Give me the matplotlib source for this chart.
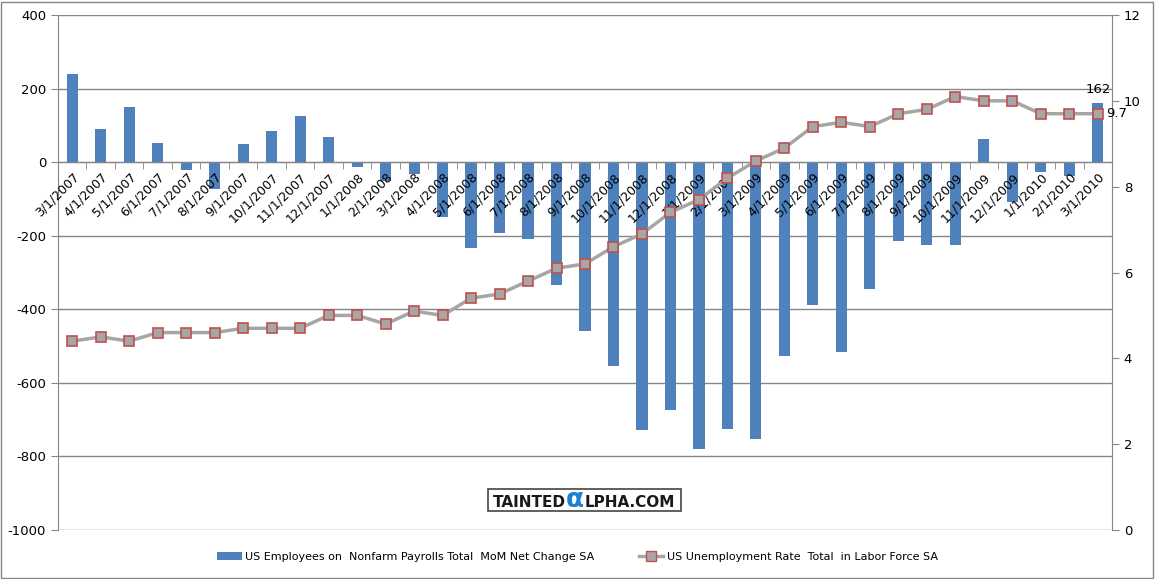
import numpy as np
import pandas as pd
import matplotlib
matplotlib.use("Agg")
import matplotlib.pyplot as plt
from matplotlib.patches import Rectangle, Patch
from matplotlib.lines import Line2D

plt.rcParams["axes.unicode_minus"] = False

# ---------------- data ----------------
dates = pd.date_range("2007-03-01", "2010-03-01", freq="MS")
date_labels = [f"{d.month}/{d.day}/{d.year}" for d in dates]

payrolls = [239, 90, 149, 52, -22, -73, 49, 84, 125, 68,
            -14, -51, -33, -150, -234, -193, -209, -334, -459, -554,
            -728, -673, -779, -726, -753, -528, -387, -515, -346, -214,
            -226, -226, 64, -109, -27, -37, 162]

unemployment = [4.4, 4.5, 4.4, 4.6, 4.6, 4.6, 4.7, 4.7, 4.7, 5.0,
                5.0, 4.8, 5.1, 5.0, 5.4, 5.5, 5.8, 6.1, 6.2, 6.6,
                6.9, 7.4, 7.7, 8.2, 8.6, 8.9, 9.4, 9.5, 9.4, 9.7,
                9.8, 10.1, 10.0, 10.0, 9.7, 9.7, 9.7]

bar_name = "US Employees on  Nonfarm Payrolls Total  MoM Net Change SA"
line_name = "US Unemployment Rate  Total  in Labor Force SA"

bar_color = "#4F81BD"
line_color = "#A6A6A6"
edge_red = "#C0504D"
grid_gray = "#868686"

# ---------------- figure ----------------
W, H = 1155, 579
fig = plt.figure(figsize=(W / 100, H / 100), dpi=100)
fig.patch.set_facecolor("white")
fig.patches.append(Rectangle((1 / W, 1 / H), 1 - 3 / W, 1 - 3 / H, transform=fig.transFigure,
                             fill=False, edgecolor="#868686", linewidth=1))

left, right, bottom, top = 58, 1112, 530, 15
ax = fig.add_axes([left / W, (H - bottom) / H, (right - left) / W, (bottom - top) / H])
x = np.arange(len(payrolls))

ax.bar(x, payrolls, width=0.39, color=bar_color, zorder=2)
ax.set_xlim(-0.5, len(x) - 0.5)
ax.set_ylim(-1000, 400)
ax.set_yticks(np.arange(-1000, 401, 200))
ax.yaxis.grid(True, color=grid_gray, linewidth=1)
ax.set_axisbelow(True)
ax.xaxis.set_zorder(3)   # date labels sit on top of the bars

for s in ["top", "right"]:
    ax.spines[s].set_visible(False)
ax.spines["left"].set_color(grid_gray)
ax.spines["bottom"].set_position(("data", 0))
ax.spines["bottom"].set_color(grid_gray)
ax.spines["bottom"].set_zorder(3)

ax.set_xticks(x)
ax.set_xticklabels(date_labels, rotation=45, ha="right", rotation_mode="anchor", fontsize=9)
ax.set_xticks(np.arange(-0.5, len(x)), minor=True)
ax.tick_params(axis="x", which="major", length=0, pad=6)
ax.tick_params(axis="x", which="minor", length=5, color=grid_gray, direction="out")
ax.tick_params(axis="y", length=5, color=grid_gray, labelsize=9.5)

ax.annotate(str(payrolls[-1]), (x[-1], payrolls[-1]), xytext=(0, 5), textcoords="offset points",
            ha="center", va="bottom", fontsize=9.5)

# ---------------- unemployment line ----------------
ax2 = ax.twinx()
ax2.plot(x, unemployment, color=line_color, linewidth=2.5, marker="s", markersize=6.5,
         markerfacecolor="#A6A6A6", markeredgecolor=edge_red, markeredgewidth=1.2, zorder=4)
ax2.set_ylim(0, 12)
ax2.set_yticks(np.arange(0, 13, 2))
for s in ["top", "left", "bottom"]:
    ax2.spines[s].set_visible(False)
ax2.spines["right"].set_color(grid_gray)
ax2.tick_params(axis="y", length=5, color=grid_gray, labelsize=9.5)
ax2.annotate(f"{unemployment[-1]}", (x[-1], unemployment[-1]), xytext=(6, 0), textcoords="offset points",
             ha="left", va="center", fontsize=9.5)

# ---------------- watermark ----------------
t1 = fig.text(493 / W, (H - 507) / H, "TAINTED", fontsize=11, fontweight="bold", color="#1a1a1a")
t2 = ax.annotate("\u03b1", xy=(1, 0), xycoords=t1, xytext=(0, -2), textcoords="offset points",
                 fontsize=19, fontweight="bold", color="#1F7FD0", va="bottom")
ax.annotate("LPHA.COM", xy=(1, 0), xycoords=t2, xytext=(0, 2), textcoords="offset points",
            fontsize=11, fontweight="bold", color="#1a1a1a", va="bottom")
fig.patches.append(Rectangle((488 / W, (H - 511) / H), 193 / W, 22 / H, transform=fig.transFigure,
                             fill=False, edgecolor="#444444", linewidth=1.2))

# ---------------- legend ----------------
handles = [Patch(facecolor=bar_color, edgecolor="none"),
           Line2D([0], [0], color=line_color, linewidth=2.5, marker="s", markersize=6.5,
                  markerfacecolor="#A6A6A6", markeredgecolor=edge_red)]
fig.legend(handles, [bar_name, line_name], loc="center", bbox_to_anchor=(0.5, 22 / H), ncol=2,
           frameon=False, fontsize=8, columnspacing=4, handlelength=2.2, handletextpad=0.3)

fig.savefig("out.png", dpi=100)
